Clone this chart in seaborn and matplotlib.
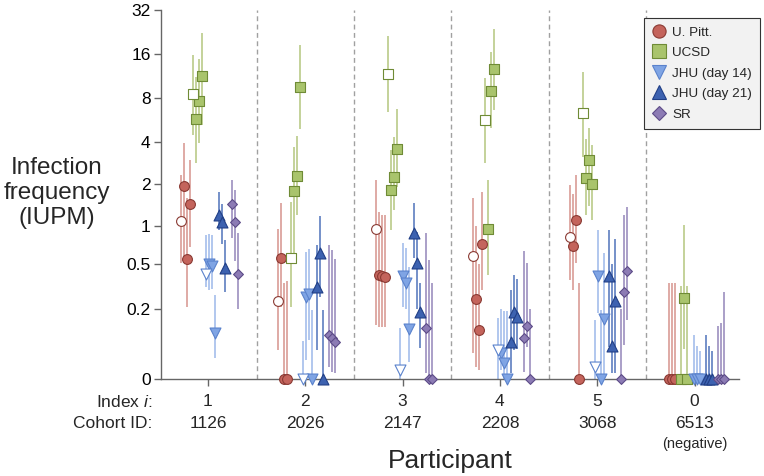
import numpy as np
import pandas as pd
import matplotlib
matplotlib.use("Agg")
import matplotlib.pyplot as plt
import matplotlib.transforms as mtransforms
from matplotlib.lines import Line2D
from matplotlib.ticker import NullLocator
import seaborn as sns

# ---------------- data ----------------
participants = ['1', '2', '3', '4', '5', '0']
cohort_ids = ['1126', '2026', '2147', '2208', '3068', '6513']
labs = ['U. Pitt.', 'UCSD', 'JHU (day 14)', 'JHU (day 21)', 'SR']
y_ticks = [0, 0.2, 0.5, 1, 2, 4, 8, 16, 32]
y_ticklabels = ['0', '0.2', '0.5', '1', '2', '4', '8', '16', '32']

# one list per participant (order as in participants)
pitt_val = [[1.09, 1.95, 0.55, 1.45], [0.237, 0.567, 0, 0], [0.94, 0.41, 0.40, 0.39],
            [0.588, 0.248, 0.115, 0.727], [0.82, 0.705, 1.1, 0], [0, 0, 0]]
pitt_lo = [[0.51, 0.51, 0.21, 0.69], [0.057, 0.21, 0, 0], [0.133, 0.127, 0.125, 0.125],
           [0.05, 0.02, 0.015, 0.3], [0.37, 0.3, 0.51, 0], [0, 0, 0]]
pitt_hi = [[2.33, 3.89, 1.59, 2.98], [0.94, 1.47, 0.35, 0.36], [2.15, 1.27, 1.2, 1.2],
           [1.59, 1.0, 0.5, 1.77], [1.98, 1.7, 2.33, 0.35], [0.35, 0.35, 0.35]]
pitt_open = [[1, 0, 0, 0], [1, 0, 0, 0], [1, 0, 0, 0], [1, 0, 0, 0], [1, 0, 0, 0], [0, 0, 0]]

ucsd_val = [[8.5, 5.7, 7.6, 11.3], [0.56, 1.8, 2.31, 9.47], [11.7, 1.82, 2.27, 3.54],
            [5.66, 0.945, 9.0, 12.6], [6.28, 2.21, 2.98, 2.01], [0, 0.257, 0]]
ucsd_lo = [[4.45, 2.85, 3.9, 5.2], [0.21, 0.544, 1.2, 4.87], [6.44, 0.93, 1.3, 1.93],
           [2.82, 0.41, 4.95, 6.63], [3.14, 1.2, 1.4, 1.1], [0, 0.06, 0]]
ucsd_hi = [[15.8, 11.2, 14.8, 22.2], [1.5, 3.69, 4.38, 18.5], [21.3, 3.5, 4.3, 6.7],
           [10.98, 2.15, 16.6, 23.6], [12.15, 4.2, 5.0, 3.8], [0.33, 1.01, 0.33]]
ucsd_open = [[1, 0, 0, 0], [1, 0, 0, 0], [1, 0, 0, 0], [1, 0, 0, 0], [1, 0, 0, 0], [0, 0, 0]]

jhu14_val = [[0.42, 0.50, 0.49, 0.104], [0, 0.263, 0.28, 0], [0.015, 0.399, 0.347, 0.117],
             [0.057, 0.05, 0.028, 0], [0.021, 0.4, 0, 0.155], [0, 0, 0]]
jhu14_lo = [[0.32, 0.30, 0.31, 0.038], [0, 0.035, 0.084, 0], [0, 0.21, 0.2, 0.031],
            [0, 0.015, 0, 0], [0, 0.18, 0, 0.006], [0, 0, 0]]
jhu14_hi = [[0.85, 0.87, 0.85, 0.27], [0.08, 0.633, 0.66, 0.194], [0.121, 0.74, 0.68, 0.48],
            [0.16, 0.2, 0.19, 0.19], [0.152, 0.93, 0.194, 0.62], [0.1, 0.068, 0.055]]
jhu14_open = [[1, 0, 0, 0], [1, 0, 0, 0], [1, 0, 0, 0], [1, 0, 0, 0], [1, 0, 0, 0], [0, 0, 0]]

jhu21_val = [[1.2, 1.07, 0.47], [0.32, 0.615, 0], [0.886, 0.51, 0.186],
             [0.077, 0.186, 0.165], [0.4, 0.068, 0.24], [0, 0, 0]]
jhu21_lo = [[0.93, 0.73, 0.29], [0.057, 0.263, 0], [0.56, 0.2, 0.063],
            [0.01, 0.057, 0.06], [0.066, 0.01, 0.01], [0, 0, 0]]
jhu21_hi = [[1.77, 1.45, 0.78], [0.71, 1.18, 0.194], [1.48, 0.9, 0.35],
            [0.3, 0.41, 0.38], [0.93, 0.5, 0.8], [0.1, 0.068, 0.055]]
jhu21_open = [[0, 0, 0]] * 6

sr_val = [[1.45, 1.07, 0.42], [0.099, 0.089, 0.078], [0.123, 0, 0],
          [0.091, 0.13, 0], [0, 0.292, 0.444], [0, 0, 0]]
sr_lo = [[0.81, 0.53, 0.2], [0.021, 0.012, 0.01], [0.01, 0, 0],
         [0.012, 0.066, 0], [0, 0.07, 0.15], [0, 0, 0]]
sr_hi = [[2.15, 1.82, 0.88], [0.71, 0.653, 0.55], [0.88, 0.544, 0.35],
         [0.64, 0.51, 0.2], [0.2, 1.2, 1.38], [0.13, 0.14, 0.29]]
sr_open = [[0, 0, 0]] * 6

# ---------------- styles ----------------
lab_data = [
    (pitt_val, pitt_lo, pitt_hi, pitt_open),
    (ucsd_val, ucsd_lo, ucsd_hi, ucsd_open),
    (jhu14_val, jhu14_lo, jhu14_hi, jhu14_open),
    (jhu21_val, jhu21_lo, jhu21_hi, jhu21_open),
    (sr_val, sr_lo, sr_hi, sr_open),
]
fills = ['#c4645c', '#a9c46c', '#7fa4e4', '#3d62b0', '#8c7bb4']
edges = ['#8a3a33', '#6f8b36', '#5a82cc', '#213f86', '#5d4c88']
bar_colors = ['#d6948d', '#b4c67f', '#9db8ea', '#5173bb', '#9486b9']
markers = ['o', 's', 'v', '^', 'D']
sizes = [50, 46, 62, 62, 25]
lab_offsets = [-0.23, -0.104, 0.022, 0.148, 0.274]
rep_spacing = 0.031

rows = []
for j, (vals, los, his, opens) in enumerate(lab_data):
    for p in range(len(participants)):
        n = len(vals[p])
        for k in range(n):
            rows.append(dict(lab=labs[j], lab_idx=j, pidx=p,
                             x=(p + 1) + lab_offsets[j] + (k - (n - 1) / 2) * rep_spacing,
                             val=vals[p][k], lo=los[p][k], hi=his[p][k],
                             open=bool(opens[p][k])))
df = pd.DataFrame(rows)

# ---------------- figure ----------------
sns.set_style("ticks")
plt.rcParams['font.family'] = ['Liberation Sans', 'DejaVu Sans']
plt.rcParams['mathtext.fontset'] = 'custom'
plt.rcParams['mathtext.rm'] = 'Liberation Sans'
plt.rcParams['mathtext.it'] = 'Liberation Sans:italic'

W, H = 764, 476
fig = plt.figure(figsize=(W / 100, H / 100), dpi=100)
ax_left, ax_right, ax_top, ax_bottom = 161, 739, 10, 379
ax = fig.add_axes([ax_left / W, 1 - ax_bottom / H, (ax_right - ax_left) / W, (ax_bottom - ax_top) / H])

C = 0.1
ax.set_yscale('function', functions=(lambda v: np.log(np.asarray(v, dtype=float) + C),
                                     lambda u: np.exp(u) - C))
ax.set_ylim(0, 32)
ax.set_xlim(0.517, 6.457)

# dividers
for xd in np.arange(1.5, len(participants), 1.0):
    ax.axvline(xd, color='#a0a0a0', lw=1.0, ls=(0, (3.5, 2.5)), zorder=0)

# error bars
for j in range(len(labs)):
    sub = df[df.lab_idx == j]
    ax.vlines(sub.x, sub.lo, sub.hi, colors=bar_colors[j], lw=1.3, alpha=0.85, zorder=1)

# markers
for j in range(len(labs)):
    sub = df[df.lab_idx == j]
    filled = sub[~sub.open]
    opened = sub[sub.open]
    if len(filled):
        sns.scatterplot(data=filled, x='x', y='val', marker=markers[j], s=sizes[j],
                        color=fills[j], edgecolor=edges[j], linewidth=0.8,
                        ax=ax, legend=False, zorder=3, clip_on=False)
    if len(opened):
        sns.scatterplot(data=opened, x='x', y='val', marker=markers[j], s=sizes[j],
                        color='white', edgecolor=edges[j], linewidth=0.8,
                        ax=ax, legend=False, zorder=3, clip_on=False)

ax.set_yticks(y_ticks)
ax.set_yticklabels(y_ticklabels)
ax.yaxis.set_minor_locator(NullLocator())
ax.set_xticks(range(1, len(participants) + 1))
ax.set_xticklabels([''] * len(participants))
ax.set_xlabel('')
ax.set_ylabel('')
sns.despine(ax=ax)
for s in ['left', 'bottom']:
    ax.spines[s].set_color('#666666')
    ax.spines[s].set_linewidth(1.0)
ax.tick_params(axis='both', direction='out', length=5, width=1, color='#666666',
               labelsize=12.5, labelcolor='black', pad=2.5)

# bottom rows of text
blend = mtransforms.blended_transform_factory(ax.transData, fig.transFigure)
def fy(py):
    return 1 - py / H

for i, (pl, cid) in enumerate(zip(participants, cohort_ids)):
    ax.text(i + 1, fy(402), pl, transform=blend, ha='center', va='center', fontsize=12.5)
    ax.text(i + 1, fy(424), cid, transform=blend, ha='center', va='center', fontsize=12.5)
ax.text(len(participants), fy(444), '(negative)', transform=blend, ha='center', va='center', fontsize=10.5)
fig.text(152 / W, fy(402), 'Index $i$:', ha='right', va='center', fontsize=12.5)
fig.text(152 / W, fy(424), 'Cohort ID:', ha='right', va='center', fontsize=12.5)

fig.text(450 / W, fy(461), 'Participant', ha='center', va='center', fontsize=19)
fig.text(57 / W, fy(193), 'Infection\nfrequency\n(IUPM)', ha='center', va='center',
         fontsize=17.5, linespacing=1.15)

# legend
handles = [Line2D([], [], linestyle='none', marker=markers[j],
                  markersize=(9.5 if markers[j] != 'D' else 7.5),
                  markerfacecolor=fills[j], markeredgecolor=edges[j], markeredgewidth=0.8)
           for j in range(len(labs))]
leg = fig.legend(handles, labs, loc='upper right', bbox_to_anchor=(760 / W, fy(18)),
                 frameon=True, fancybox=False, edgecolor='#333333', facecolor='#f2f2f2',
                 framealpha=1, fontsize=9.7, labelspacing=0.6, handlelength=1.0,
                 handletextpad=0.5, borderpad=0.6, borderaxespad=0)
leg.get_frame().set_linewidth(0.8)

fig.savefig('out.png', dpi=100)
